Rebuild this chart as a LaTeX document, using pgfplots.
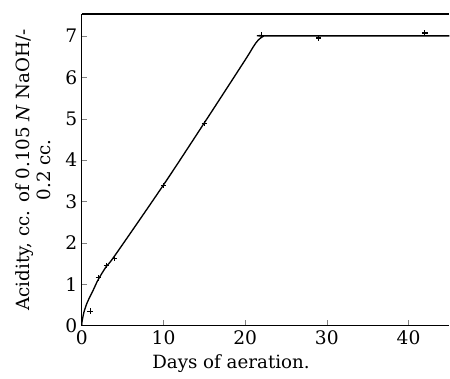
\documentclass[border=0pt]{standalone}
\usepackage{fontspec}
\setmainfont{DejaVu Serif}
\usepackage{pgfplots}
\pgfplotsset{compat=1.18}
\begin{document}
\begin{tikzpicture}
\begin{axis}[name=ax,
  scale only axis, width=276pt, height=234pt,
  xmin=0, xmax=45, ymin=0, ymax=7.53,
  axis x line*=box, axis y line*=left,
  xtick={0,10,20,30,40}, ytick={0,1,2,3,4,5,6,7},
  xtick pos=bottom, tick align=inside,
  major tick length=4pt,
  /pgf/number format/assume math mode=true,
  tick label style={font=\fontsize{14}{16}\selectfont},
  label style={font=\fontsize{13.7}{16}\selectfont},
  xlabel={Days of aeration.},
  ylabel={Acidity, cc. of 0.105 \textit{N} NaOH/-\\0.2 cc.},
  ylabel style={align=center, yshift=4pt},
  xlabel style={xshift=-26pt, yshift=-1pt},
  axis line style={line width=0.9pt},
  clip=false,
]
\addplot[black, line width=1pt, smooth, tension=0.5] coordinates {
 (0,0.08) (0.25,0.32) (0.6,0.53) (1,0.7) (1.4,0.86) (2,1.11) (3,1.43) (4,1.68) (10,3.4) (15,4.9) (20,6.42) (21,6.74) (21.6,6.9) (22.3,7.0) (23,7.0) (45,7.0)
};
\addplot[black, only marks, mark=+, mark size=2pt, thick] coordinates {
 (1,0.35) (2,1.15) (3,1.45) (4,1.62) (10,3.38) (15,4.88) (22,7.02) (29,6.95) (42,7.07)
};
\end{axis}
\path ([xshift=-61.5pt,yshift=-39.75pt]ax.south west) rectangle ([yshift=10.5pt]ax.north east);
\end{tikzpicture}
\end{document}
